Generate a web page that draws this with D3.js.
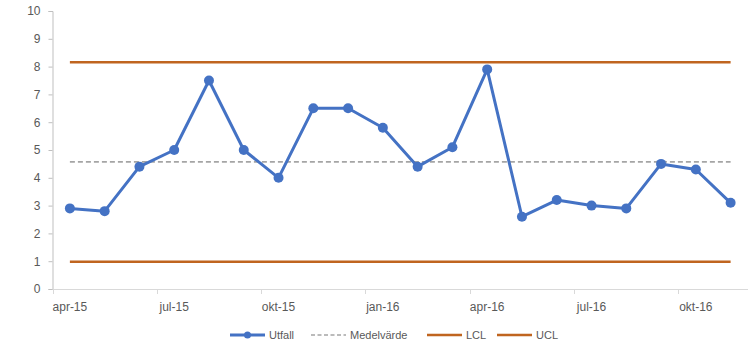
<!DOCTYPE html>
<html>
<head>
<meta charset="utf-8">
<script src="https://cdn.jsdelivr.net/npm/d3@7"></script>
<style>
  body { margin: 0; background: #fff; }
  text { font-family: "Liberation Sans", Arial, sans-serif; fill: #595959; }
</style>
</head>
<body>
<div id="chart"></div>
<script>
// Control chart: Utfall with Medelvärde, LCL and UCL

const months = ["apr-15", "maj-15", "jun-15", "jul-15", "aug-15", "sep-15", "okt-15", "nov-15", "dec-15",
    "jan-16", "feb-16", "mar-16", "apr-16", "maj-16", "jun-16", "jul-16", "aug-16", "sep-16", "okt-16", "nov-16"];
const utfall = [2.9, 2.8, 4.4, 5.0, 7.5, 5.0, 4.0, 6.5, 6.5, 5.8, 4.4, 5.1, 7.9, 2.6, 3.2, 3.0, 2.9, 4.5, 4.3, 3.1];
const medelvarde = months.map(() => 4.57);
const lcl = months.map(() => 0.98);
const ucl = months.map(() => 8.16);
const yTicks = [0, 1, 2, 3, 4, 5, 6, 7, 8, 9, 10];
const xLabels = ["apr-15", "jul-15", "okt-15", "jan-16", "apr-16", "jul-16", "okt-16"];

const W = 752, H = 354;
const margin = {top: 11, right: 4, bottom: 65, left: 52.5};

const svg = d3.select("#chart")
    .append("svg")
    .attr("width", W)
    .attr("height", H);

const x = d3.scaleBand()
    .domain(months)
    .range([margin.left, W - margin.right]);
const cx = m => x(m) + x.bandwidth() / 2;

const y = d3.scaleLinear()
    .domain([0, 10])
    .range([H - margin.bottom, margin.top]);

// y axis
const yAxis = svg.append("g")
    .attr("transform", `translate(${margin.left},0)`)
    .call(d3.axisLeft(y).tickValues(yTicks).tickSize(4).tickPadding(8));
yAxis.select(".domain").attr("stroke", "#bfbfbf");
yAxis.selectAll(".tick line").attr("stroke", "#bfbfbf");
yAxis.selectAll("text").style("font-size", "12px").attr("fill", "#595959");

// x axis line
svg.append("line")
    .attr("x1", margin.left).attr("x2", W - margin.right)
    .attr("y1", y(0) + 0.5).attr("y2", y(0) + 0.5)
    .attr("stroke", "#d9d9d9");

// x tick marks at the start of each labelled month
svg.selectAll(".xtick")
    .data(xLabels)
    .enter()
    .append("line")
    .attr("x1", d => Math.round(x(d)) + 0.5)
    .attr("x2", d => Math.round(x(d)) + 0.5)
    .attr("y1", y(0))
    .attr("y2", y(0) + 5)
    .attr("stroke", "#d9d9d9");

svg.selectAll(".xlabel")
    .data(xLabels)
    .enter()
    .append("text")
    .attr("x", d => cx(d))
    .attr("y", y(0) + 22)
    .attr("text-anchor", "middle")
    .style("font-size", "12px")
    .text(d => d);

const line = d3.line()
    .x((d, i) => cx(months[i]))
    .y(d => y(d));

// limit lines
svg.append("path").datum(lcl)
    .attr("d", line).attr("fill", "none")
    .attr("stroke", "#C0651F").attr("stroke-width", 2.5);
svg.append("path").datum(ucl)
    .attr("d", line).attr("fill", "none")
    .attr("stroke", "#C0651F").attr("stroke-width", 2.5);
svg.append("path").datum(medelvarde)
    .attr("d", line).attr("fill", "none")
    .attr("stroke", "#a5a5a5").attr("stroke-width", 1.8)
    .attr("stroke-dasharray", "5,3");

// Utfall series
svg.append("path").datum(utfall)
    .attr("d", line).attr("fill", "none")
    .attr("stroke", "#4472C4").attr("stroke-width", 3)
    .attr("stroke-linejoin", "round");
svg.selectAll(".dot")
    .data(utfall)
    .enter()
    .append("circle")
    .attr("cx", (d, i) => cx(months[i]))
    .attr("cy", d => y(d))
    .attr("r", 5)
    .attr("fill", "#4472C4");

// legend
const legend = [
    {name: "Utfall", color: "#4472C4", width: 3, dash: null, marker: true, x0: 230},
    {name: "Medelvärde", color: "#a5a5a5", width: 1.5, dash: "4,2.5", marker: false, x0: 311},
    {name: "LCL", color: "#C0651F", width: 2.5, dash: null, marker: false, x0: 427},
    {name: "UCL", color: "#C0651F", width: 2.5, dash: null, marker: false, x0: 497}
];
const ly = 335;
const lg = svg.selectAll(".legend")
    .data(legend)
    .enter()
    .append("g")
    .attr("transform", d => `translate(${d.x0},${ly})`);
lg.append("line")
    .attr("x1", 0).attr("x2", 35)
    .attr("stroke", d => d.color)
    .attr("stroke-width", d => d.width)
    .attr("stroke-dasharray", d => d.dash);
lg.filter(d => d.marker)
    .append("circle")
    .attr("cx", 17.5).attr("r", 3.5)
    .attr("fill", d => d.color);
lg.append("text")
    .attr("x", 39)
    .attr("dy", "0.35em")
    .style("font-size", "11px")
    .text(d => d.name);
</script>
</body>
</html>
